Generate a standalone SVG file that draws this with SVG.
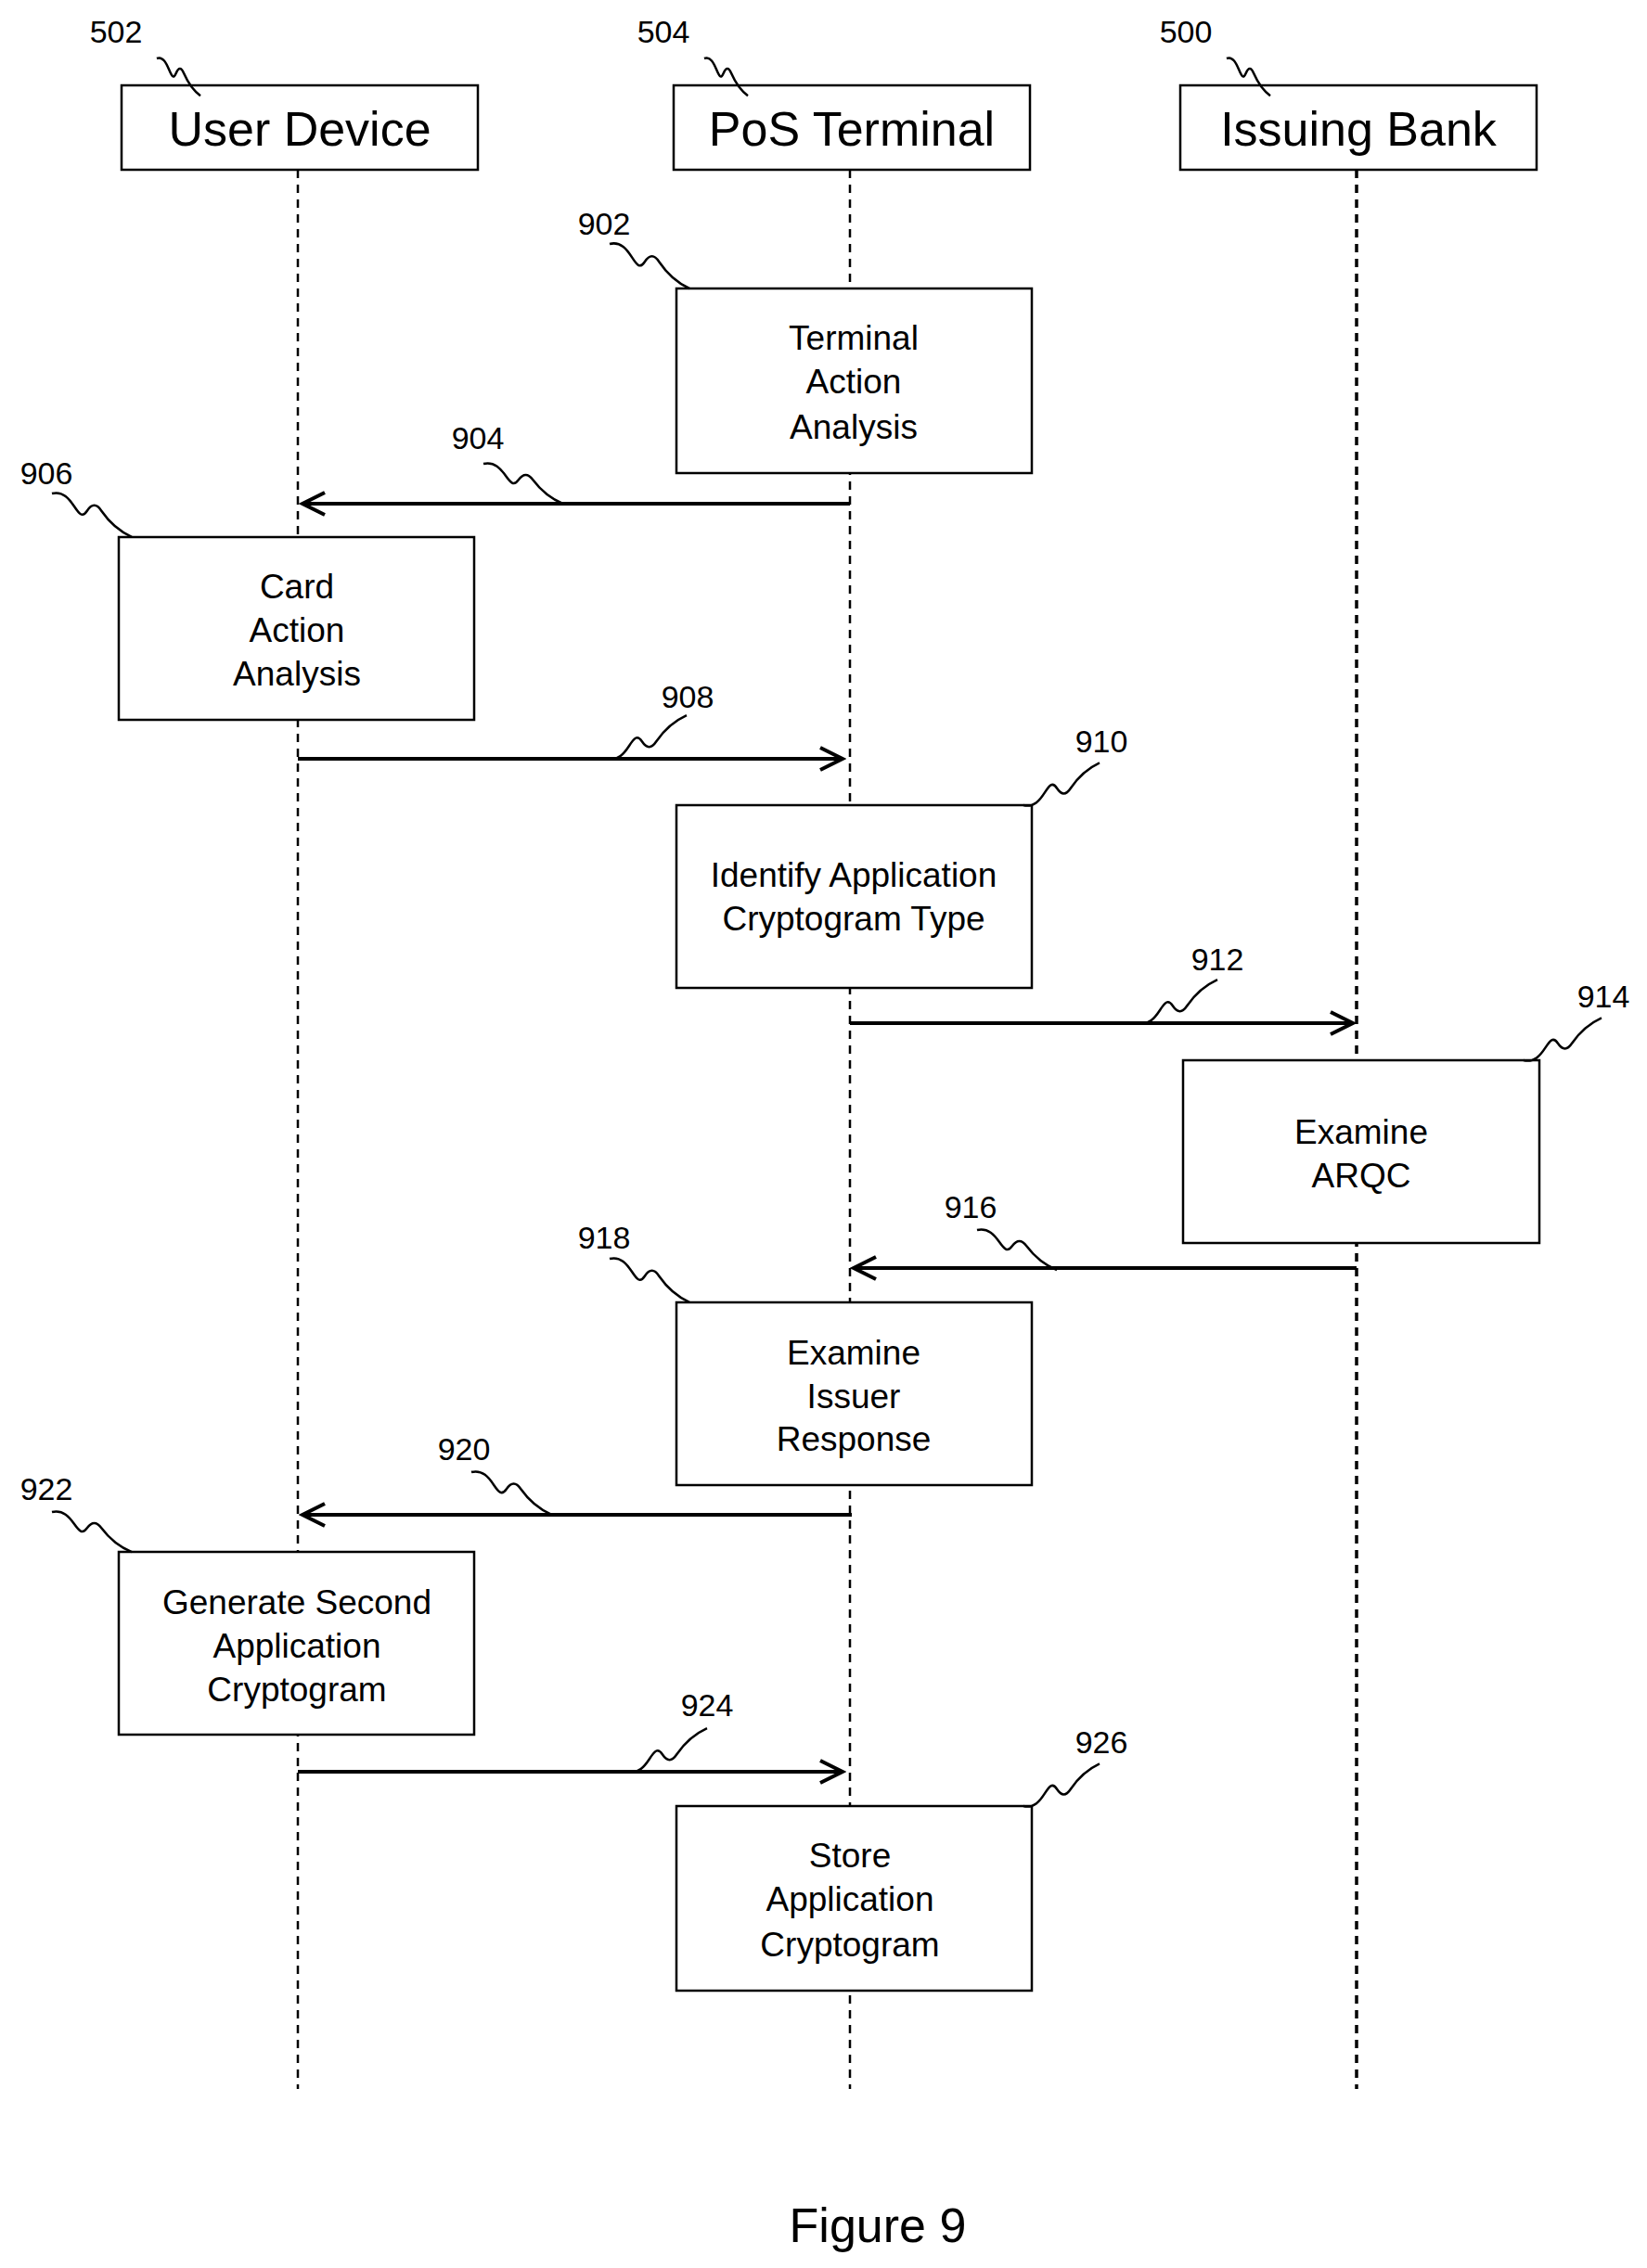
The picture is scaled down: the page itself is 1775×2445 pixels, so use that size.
<svg xmlns="http://www.w3.org/2000/svg" xmlns:xlink="http://www.w3.org/1999/xlink" width="1775" height="2445" viewBox="0 0 1775 2445">
<style>
text{font-family:"Liberation Sans",Arial,sans-serif;fill:#000}
.hd{font-size:52px;text-anchor:middle}
.bt{font-size:37px;text-anchor:middle}
.lb{font-size:34px;text-anchor:middle}
.box{fill:#fff;stroke:#000;stroke-width:2.5}
.life{stroke:#000;stroke-width:2.5;stroke-dasharray:9,7;fill:none}
.arr{stroke:#000;stroke-width:4;fill:none;marker-end:url(#ah)}
.sq{fill:none;stroke:#000;stroke-width:2.5;vector-effect:non-scaling-stroke}
</style>
<defs>
<marker id="ah" markerWidth="12" markerHeight="12" refX="10" refY="6" orient="auto" markerUnits="userSpaceOnUse"><polyline points="0,0 10,6 0,12" fill="none" stroke="#000" stroke-width="3"/></marker>
<marker id="ah2" markerWidth="30" markerHeight="30" refX="26" refY="15" orient="auto" markerUnits="userSpaceOnUse"><polyline points="2,3 26,15 2,27" fill="none" stroke="#000" stroke-width="4"/></marker>
<path id="sq" class="sq" d="M0,0 C14,-4 22,8 28,18 C34,28 38,34 44,24 C50,14 56,14 62,24 C72,40 84,52 100,60"/>
</defs>
<g id="lifelines">
<line class="life" x1="321" y1="183" x2="321" y2="2252"/>
<line class="life" x1="916" y1="183" x2="916" y2="2252"/>
<line class="life" x1="1462" y1="183" x2="1462" y2="2252" style="stroke-width:3.5"/>
</g>
<g id="h502"><rect class="box" x="131" y="92" width="384" height="91"/><text class="hd" x="323" y="157">User Device</text><use href="#sq" transform="translate(169,63) scale(.47,.67)"/><text class="lb" x="125" y="46">502</text></g>
<g id="h504"><rect class="box" x="726" y="92" width="384" height="91"/><text class="hd" x="918" y="157">PoS Terminal</text><use href="#sq" transform="translate(759,63) scale(.47,.67)"/><text class="lb" x="715" y="46">504</text></g>
<g id="h500"><rect class="box" x="1272" y="92" width="384" height="91"/><text class="hd" x="1464" y="157">Issuing Bank</text><use href="#sq" transform="translate(1322,63) scale(.47,.67)"/><text class="lb" x="1278" y="46">500</text></g>
<g id="connectors">
<line style="stroke:#000;stroke-width:4;marker-end:url(#ah2)" x1="916" y1="543" x2="326" y2="543"/>
<line style="stroke:#000;stroke-width:4;marker-end:url(#ah2)" x1="321" y1="818" x2="908" y2="818"/>
<line style="stroke:#000;stroke-width:4;marker-end:url(#ah2)" x1="916" y1="1103" x2="1458" y2="1103"/>
<line style="stroke:#000;stroke-width:4;marker-end:url(#ah2)" x1="1462" y1="1367" x2="920" y2="1367"/>
<line style="stroke:#000;stroke-width:4;marker-end:url(#ah2)" x1="918" y1="1633" x2="326" y2="1633"/>
<line style="stroke:#000;stroke-width:4;marker-end:url(#ah2)" x1="321" y1="1910" x2="908" y2="1910"/>
<use href="#sq" transform="translate(521,500) scale(.86,.72)"/><text class="lb" x="515" y="484">904</text>
<use href="#sq" transform="translate(654,818) scale(.86,-.78)"/><text class="lb" x="741" y="763">908</text>
<use href="#sq" transform="translate(1226,1103) scale(.86,-.78)"/><text class="lb" x="1312" y="1046">912</text>
<use href="#sq" transform="translate(1053,1326) scale(.86,.72)"/><text class="lb" x="1046" y="1313">916</text>
<use href="#sq" transform="translate(508,1587) scale(.86,.76)"/><text class="lb" x="500" y="1574">920</text>
<use href="#sq" transform="translate(676,1910) scale(.86,-.78)"/><text class="lb" x="762" y="1850">924</text>
</g>
<g id="n902"><rect class="box" x="729" y="311" width="383" height="199"/><text class="bt" x="920" y="377">Terminal</text><text class="bt" x="920" y="424">Action</text><text class="bt" x="920" y="473">Analysis</text><use href="#sq" transform="translate(657,263) scale(.86,.8)"/><text class="lb" x="651" y="253">902</text></g>
<g id="n906"><rect class="box" x="128" y="579" width="383" height="197"/><text class="bt" x="320" y="645">Card</text><text class="bt" x="320" y="692">Action</text><text class="bt" x="320" y="739">Analysis</text><use href="#sq" transform="translate(56,532) scale(.86,.78)"/><text class="lb" x="50" y="522">906</text></g>
<g id="n910"><rect class="box" x="729" y="868" width="383" height="197"/><text class="bt" x="920" y="956">Identify Application</text><text class="bt" x="920" y="1003">Cryptogram Type</text><use href="#sq" transform="translate(1103,868) scale(.82,-.76)"/><text class="lb" x="1187" y="811">910</text></g>
<g id="n914"><rect class="box" x="1275" y="1143" width="384" height="197"/><text class="bt" x="1467" y="1233">Examine</text><text class="bt" x="1467" y="1280">ARQC</text><use href="#sq" transform="translate(1642,1143) scale(.84,-.76)"/><text class="lb" x="1728" y="1086">914</text></g>
<g id="n918"><rect class="box" x="729" y="1404" width="383" height="197"/><text class="bt" x="920" y="1471">Examine</text><text class="bt" x="920" y="1518">Issuer</text><text class="bt" x="920" y="1564">Response</text><use href="#sq" transform="translate(657,1357) scale(.86,.78)"/><text class="lb" x="651" y="1346">918</text></g>
<g id="n922"><rect class="box" x="128" y="1673" width="383" height="197"/><text class="bt" x="320" y="1740">Generate Second</text><text class="bt" x="320" y="1787">Application</text><text class="bt" x="320" y="1834">Cryptogram</text><use href="#sq" transform="translate(56,1630) scale(.86,.72)"/><text class="lb" x="50" y="1617">922</text></g>
<g id="n926"><rect class="box" x="729" y="1947" width="383" height="199"/><text class="bt" x="916" y="2013">Store</text><text class="bt" x="916" y="2060">Application</text><text class="bt" x="916" y="2109">Cryptogram</text><use href="#sq" transform="translate(1103,1947) scale(.82,-.76)"/><text class="lb" x="1187" y="1890">926</text></g>
<text x="946" y="2417" style="font-size:52px;text-anchor:middle">Figure 9</text>
</svg>
